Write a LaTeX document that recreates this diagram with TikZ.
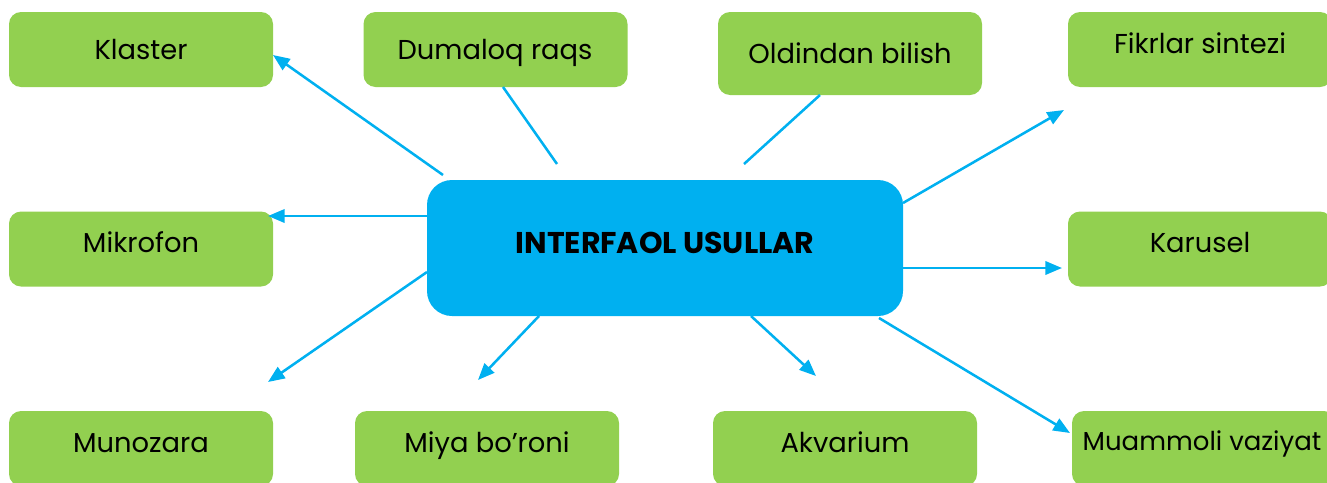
\documentclass[tikz,border=0pt]{standalone}
\usepackage{fontspec}
\setmainfont{Poppins}
\usetikzlibrary{arrows.meta}
\definecolor{grn}{HTML}{92D050}
\definecolor{blu}{HTML}{00B0F0}
\begin{document}
\begin{tikzpicture}[x=0.75pt,y=-0.75pt,
  box/.style={fill=grn, rounded corners=9pt, minimum width=198pt, minimum height=56.25pt, inner sep=0pt},
  lbl/.style={font=\fontsize{20.5}{24}\selectfont, inner sep=0pt, anchor=base},
  conn/.style={blu, line width=1.9pt, -{Triangle[length=12.5pt,width=10pt]}},
  plainline/.style={blu, line width=1.9pt}]
\useasboundingbox (0,0) rectangle (1327,482);
\clip (0,0) rectangle (1327,482);
% boxes
\node[box] (klaster) at (141,49.5) {};
\node[box] (dumaloq) at (495.5,49.5) {};
\node[box, minimum height=62.25pt] (oldindan) at (850,53.5) {};
\node[box] (fikrlar) at (1200,49.5) {};
\node[box] (mikrofon) at (141,249) {};
\node[box] (karusel) at (1200,249) {};
\node[box] (munozara) at (141,448.5) {};
\node[box] (miya) at (487,448.5) {};
\node[box] (akvarium) at (845,448.5) {};
\node[box] (muammoli) at (1204,448.5) {};
\node[fill=blu, rounded corners=18.75pt, minimum width=357pt, minimum height=102pt, inner sep=0pt] (center) at (665,248) {};
% labels
\node[lbl] (tklaster) at (141,59) {Klaster};
\node[lbl] (tdumaloq) at (495,59) {Dumaloq raqs};
\node[lbl] (toldindan) at (850,63) {Oldindan bilish};
\node[lbl] (tfikrlar) at (1200,53) {Fikrlar sintezi};
\node[lbl] (tmikrofon) at (141,252) {Mikrofon};
\node[lbl] (tkarusel) at (1200,252) {Karusel};
\node[lbl] (tmunozara) at (141,452) {Munozara};
\node[lbl] (tmiya) at (487,452) {Miya bo’roni};
\node[lbl] (takvarium) at (845,452) {Akvarium};
\node[lbl, font=\fontsize{19.5}{24}\selectfont] (tmuammoli) at (1202,450) {Muammoli vaziyat};
\node[font=\bfseries\fontsize{22.5}{27}\selectfont, inner sep=0pt, anchor=base] (tcenter) at (665,253) {INTERFAOL USULLAR};
% connector end points
\coordinate (s1) at (443,175);  \coordinate (e1) at (273,55);
\coordinate (s2) at (557,164);  \coordinate (e2) at (503,87);
\coordinate (s3) at (744,164);  \coordinate (e3) at (820,95);
\coordinate (s4) at (903,203);  \coordinate (e4) at (1064,110);
\coordinate (s5) at (427,216);  \coordinate (e5) at (268,216);
\coordinate (s6) at (903,268);  \coordinate (e6) at (1062,268);
\coordinate (s7) at (427,272);  \coordinate (e7) at (268,382);
\coordinate (s8) at (539,316);  \coordinate (e8) at (478,380);
\coordinate (s9) at (751,316);  \coordinate (e9) at (816,376);
\coordinate (s10) at (879,318); \coordinate (e10) at (1070,433);
% connectors
\draw[conn] (s1) -- (e1);
\draw[plainline] (s2) -- (e2);
\draw[plainline] (s3) -- (e3);
\draw[conn] (s4) -- (e4);
\draw[conn] (s5) -- (e5);
\draw[conn] (s6) -- (e6);
\draw[conn] (s7) -- (e7);
\draw[conn] (s8) -- (e8);
\draw[conn] (s9) -- (e9);
\draw[conn] (s10) -- (e10);
\end{tikzpicture}
\end{document}
